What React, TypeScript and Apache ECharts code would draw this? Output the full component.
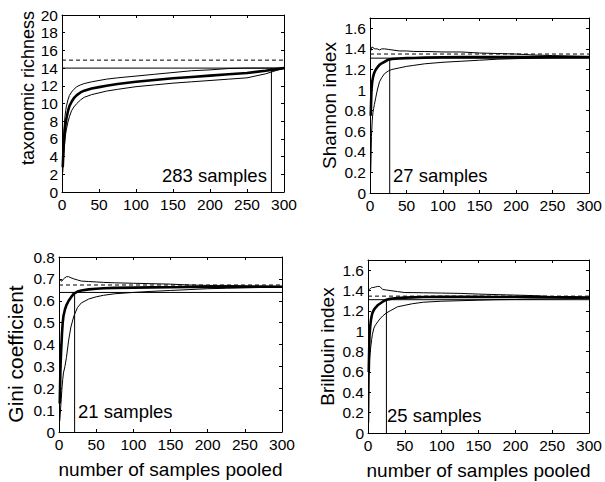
import React, { useEffect, useRef } from "react";
import * as echarts from "echarts";

// ---- data ----
const samplesX = [1, 2, 3, 4, 5, 6, 8, 10, 13, 16, 20, 25, 30, 40, 50, 60, 75, 100, 125, 150, 175, 200, 225, 250, 275, 300];

const richUpper = [3.5, 6, 7.5, 8.5, 9.2, 9.7, 10.4, 10.9, 11.3, 11.6, 11.9, 12.1, 12.25, 12.45, 12.6, 12.75, 12.9, 13.1, 13.3, 13.5, 13.7, 13.8, 13.95, 14, 14, 14];
const richMean = [2.8, 4.8, 6.2, 7.1, 7.8, 8.3, 9.1, 9.7, 10.2, 10.6, 10.95, 11.25, 11.45, 11.7, 11.85, 12.0, 12.2, 12.45, 12.65, 12.85, 13.0, 13.15, 13.3, 13.45, 13.7, 14];
const richLower = [2.2, 3.8, 5, 5.9, 6.6, 7.1, 7.9, 8.5, 9.2, 9.6, 10.0, 10.4, 10.7, 11.0, 11.2, 11.4, 11.6, 11.9, 12.1, 12.3, 12.45, 12.6, 12.75, 12.9, 13.35, 14];

const shanUpper = [1.38, 1.41, 1.42, 1.41, 1.41, 1.4, 1.4, 1.4, 1.39, 1.4, 1.4, 1.395, 1.39, 1.38, 1.38, 1.375, 1.375, 1.37, 1.37, 1.36, 1.355, 1.35, 1.34, 1.335, 1.33, 1.325];
const shanMean = [0.75, 1.0, 1.08, 1.12, 1.15, 1.17, 1.2, 1.22, 1.245, 1.26, 1.275, 1.295, 1.302, 1.306, 1.31, 1.312, 1.315, 1.318, 1.32, 1.32, 1.32, 1.32, 1.32, 1.32, 1.32, 1.32];
const shanLower = [0.2, 0.55, 0.7, 0.78, 0.82, 0.86, 0.93, 1.0, 1.08, 1.12, 1.16, 1.185, 1.2, 1.215, 1.23, 1.24, 1.255, 1.27, 1.28, 1.29, 1.3, 1.305, 1.31, 1.315, 1.318, 1.32];

const giniUpper = [0.7, 0.695, 0.69, 0.69, 0.695, 0.7, 0.705, 0.71, 0.71, 0.705, 0.7, 0.695, 0.69, 0.688, 0.686, 0.684, 0.682, 0.68, 0.678, 0.676, 0.672, 0.67, 0.67, 0.668, 0.667, 0.665];
const giniMean = [0.13, 0.3, 0.38, 0.45, 0.5, 0.53, 0.56, 0.58, 0.6, 0.615, 0.633, 0.642, 0.647, 0.652, 0.655, 0.657, 0.659, 0.66, 0.661, 0.662, 0.663, 0.663, 0.664, 0.664, 0.664, 0.664];
const giniLower = [0.05, 0.1, 0.15, 0.2, 0.24, 0.27, 0.3, 0.34, 0.42, 0.48, 0.53, 0.57, 0.59, 0.608, 0.618, 0.625, 0.632, 0.638, 0.643, 0.647, 0.651, 0.655, 0.657, 0.659, 0.661, 0.663];

const brilUpper = [1.4, 1.41, 1.42, 1.42, 1.43, 1.43, 1.43, 1.435, 1.44, 1.44, 1.41, 1.405, 1.4, 1.39, 1.38, 1.38, 1.378, 1.375, 1.372, 1.365, 1.36, 1.355, 1.35, 1.34, 1.335, 1.33];
const brilMean = [0.6, 0.95, 1.05, 1.11, 1.15, 1.18, 1.21, 1.23, 1.255, 1.27, 1.29, 1.31, 1.318, 1.326, 1.33, 1.333, 1.336, 1.338, 1.338, 1.338, 1.337, 1.336, 1.335, 1.334, 1.333, 1.332];
const brilLower = [0.1, 0.72, 0.8, 0.86, 0.92, 0.97, 1.03, 1.06, 1.09, 1.12, 1.15, 1.18, 1.2, 1.24, 1.255, 1.27, 1.285, 1.295, 1.3, 1.305, 1.31, 1.312, 1.315, 1.318, 1.32, 1.325];

// reference levels: [solid threshold, dashed level, samples needed]
const richLevels = [14, 14.9, 283];
const shanLevels = [1.31, 1.35, 27];
const giniLevels = [0.638, 0.672, 21];
const brilLevels = [1.31, 1.345, 25];

const yTitles = ["taxonomic richness", "Shannon index", "Gini coefficient", "Brillouin index"];
const xTitle = "number of samples pooled";
const sampleLabels = ["283 samples", "27 samples", "21 samples", "25 samples"];

const FONT = "'Liberation Sans', Arial, Helvetica, sans-serif";

export default function App() {
  const ref = useRef<HTMLDivElement>(null);
  useEffect(() => {
    if (!ref.current) return;
    const chart = echarts.init(ref.current, undefined, { renderer: "svg" });

    const grids = [
      { left: 62, top: 15, width: 222, height: 177 },
      { left: 370, top: 18, width: 222, height: 175 },
      { left: 59, top: 257, width: 223, height: 175 },
      { left: 368, top: 260, width: 221, height: 173 },
    ];
    const yRanges = [
      { max: 20, interval: 2 },
      { max: 1.7, interval: 0.2 },
      { max: 0.8, interval: 0.1 },
      { max: 1.7, interval: 0.2 },
    ];
    const yNameGaps = [23, 31, 31, 31];
    // panels whose y title is placed as free text (position / size differ in the reference)
    const freeTitles: Record<number, { x: number; y: number; size: number }> = {
      0: { x: 28, y: 88, size: 18 },
      2: { x: 15.5, y: 354, size: 21 },
    };
    const curves = [
      [richUpper, richMean, richLower],
      [shanUpper, shanMean, shanLower],
      [giniUpper, giniMean, giniLower],
      [brilUpper, brilMean, brilLower],
    ];
    const levels = [richLevels, shanLevels, giniLevels, brilLevels];
    const textPos = [
      { x: 162, y: 175 },
      { x: 393, y: 175.5 },
      { x: 78, y: 411 },
      { x: 387, y: 415 },
    ];

    const black = "#000";
    const xAxis: any[] = [];
    const yAxis: any[] = [];
    const series: any[] = [];
    const graphic: any[] = [];

    grids.forEach((g, i) => {
      const common = {
        gridIndex: i,
        type: "value",
        axisLine: { show: true, onZero: false, lineStyle: { color: black, width: 1 } },
        axisTick: { show: true, inside: true, length: 3, lineStyle: { color: black } },
        splitLine: { show: false },
      };
      xAxis.push({
        ...common,
        position: "bottom",
        min: 0,
        max: 300,
        interval: 50,
        axisLabel: { color: black, fontSize: 15.5, fontFamily: FONT, margin: 4 },
        name: i >= 2 ? xTitle : "",
        nameLocation: "middle",
        nameGap: 28,
        nameTextStyle: { color: black, fontSize: 19, fontFamily: FONT },
      });
      xAxis.push({
        ...common,
        position: "top",
        min: 0,
        max: 300,
        interval: 50,
        axisLabel: { show: false },
      });
      yAxis.push({
        ...common,
        position: "left",
        min: 0,
        max: yRanges[i].max,
        interval: yRanges[i].interval,
        axisLabel: { color: black, fontSize: 15.5, fontFamily: FONT, margin: 4, showMaxLabel: i === 0 || i === 2 },
        name: freeTitles[i] ? "" : yTitles[i],
        nameLocation: "middle",
        nameRotate: 90,
        nameGap: yNameGaps[i],
        nameTextStyle: { color: black, fontSize: 19, fontFamily: FONT },
      });
      yAxis.push({
        ...common,
        position: "right",
        min: 0,
        max: yRanges[i].max,
        interval: yRanges[i].interval,
        axisLabel: { show: false },
      });

      const xi = i * 2;
      const yi = i * 2;
      const [upper, mean, lower] = curves[i];
      const [thr, dashed, n] = levels[i];
      const base = {
        type: "line",
        xAxisIndex: xi,
        yAxisIndex: yi,
        showSymbol: false,
        symbol: "none",
        silent: true,
      };
      series.push({
        ...base,
        data: [[0, dashed], [300, dashed]],
        lineStyle: { color: black, width: 1, type: [4, 3] },
      });
      series.push({
        ...base,
        data: [[0, thr], [300, thr]],
        lineStyle: { color: black, width: 1 },
      });
      series.push({
        ...base,
        data: [[n, 0], [n, thr]],
        lineStyle: { color: black, width: 1 },
      });
      series.push({
        ...base,
        data: samplesX.map((x, k) => [x, upper[k]]),
        lineStyle: { color: black, width: 1 },
      });
      series.push({
        ...base,
        data: samplesX.map((x, k) => [x, lower[k]]),
        lineStyle: { color: black, width: 1 },
      });
      series.push({
        ...base,
        data: samplesX.map((x, k) => [x, mean[k]]),
        lineStyle: { color: black, width: 2.6 },
      });

      graphic.push({
        type: "text",
        x: textPos[i].x,
        y: textPos[i].y,
        style: {
          text: sampleLabels[i],
          fill: black,
          fontSize: 18.5,
          fontFamily: FONT,
          verticalAlign: "middle",
          align: "left",
        },
      });

      const ft = freeTitles[i];
      if (ft) {
        graphic.push({
          type: "text",
          x: ft.x,
          y: ft.y,
          rotation: Math.PI / 2,
          style: {
            text: yTitles[i],
            fill: black,
            fontSize: ft.size,
            fontFamily: FONT,
            align: "center",
            verticalAlign: "middle",
          },
        });
      }
    });

    chart.setOption({
      animation: false,
      backgroundColor: "#fff",
      grid: grids.map((g) => ({ ...g, containLabel: false })),
      xAxis,
      yAxis,
      series,
      graphic,
    });
    return () => chart.dispose();
  }, []);

  return (
    <div
      ref={ref}
      style={{ position: "fixed", left: 0, top: 0, width: 605, height: 482, background: "#fff" }}
    />
  );
}
